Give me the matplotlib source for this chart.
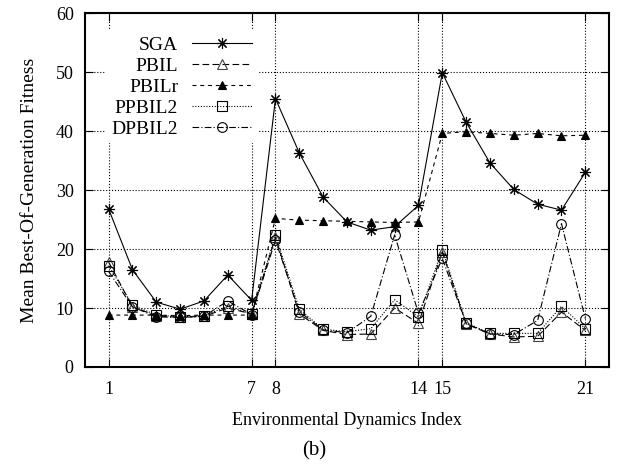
import matplotlib.pyplot as plt

plt.rcParams['font.family'] = 'Liberation Serif'

index = list(range(1, 22))

sga = [26.8, 16.5, 11.0, 9.8, 11.2, 15.6, 11.3, 45.5, 36.3, 28.8, 24.6,
       23.2, 23.8, 27.4, 49.9, 41.5, 34.6, 30.1, 27.6, 26.6, 33.0]
pbil = [17.8, 10.2, 8.7, 8.4, 8.6, 10.0, 9.0, 22.0, 9.0, 6.2, 5.5,
        5.6, 10.0, 7.4, 19.5, 7.3, 5.6, 5.1, 5.2, 9.3, 6.2]
pbilr = [8.8, 8.8, 8.8, 8.7, 8.8, 8.8, 8.8, 25.2, 24.9, 24.8, 24.7,
         24.6, 24.5, 24.6, 39.6, 39.9, 39.6, 39.3, 39.6, 39.2, 39.3]
ppbil2 = [17.2, 10.5, 8.8, 8.5, 8.7, 10.3, 9.0, 22.4, 9.8, 6.4, 6.0,
          6.5, 11.4, 8.5, 19.9, 7.5, 5.7, 5.7, 5.7, 10.3, 6.5]
dpbil2 = [16.2, 10.2, 8.5, 8.4, 8.6, 11.2, 8.9, 21.5, 9.4, 6.3, 5.8,
          8.6, 22.4, 9.1, 18.4, 7.4, 5.6, 5.5, 7.9, 24.3, 8.2]

xticks = [1, 7, 8, 14, 15, 21]

fig = plt.figure(figsize=(6.28, 4.69), dpi=100)
ax = fig.add_axes([0.135, 0.2175, 0.835, 0.7545])

ax.plot(index, sga, c="black", lw=0.8, ls="-", marker=(8, 2, 0), ms=8,
        mew=0.8, label="SGA")
ax.plot(index, pbil, c="black", lw=0.8, ls=(0, (6, 3)), marker="^", ms=7,
        mfc="none", mec="#444444", mew=0.8, label="PBIL")
ax.plot(index, pbilr, c="black", lw=0.8, ls=(0, (3.5, 3.5)), marker="^",
        ms=6, mew=0.8, label="PBILr")
ax.plot(index, ppbil2, c="black", lw=0.8, ls=(0, (1, 1.5)), marker="s",
        ms=7, mfc="none", mew=0.8, label="PPBIL2")
ax.plot(index, dpbil2, c="black", lw=0.8, ls=(0, (6, 2, 1, 2)), marker="o",
        ms=7, mfc="none", mew=0.8, label="DPBIL2")

ax.set_xlim(0, 22)
ax.set_ylim(0, 60)
ax.set_xticks(xticks)
ax.set_yticks(range(0, 61, 10))
ax.tick_params(axis="both", which="major", labelsize=13, direction="in",
               length=6, top=True, right=True, width=0.8)
ax.tick_params(axis="x", pad=10)
ax.tick_params(axis="y", pad=8)
ax.grid(True, ls=":", c="black", lw=0.8)
for s in ax.spines.values():
    s.set_linewidth(1.5)

ax.set_xlabel("Environmental Dynamics Index", fontsize=13, labelpad=10)
ax.set_ylabel("Mean Best-Of-Generation Fitness", fontsize=14, labelpad=13)

leg = ax.legend(loc="upper left", bbox_to_anchor=(0.04, 0.951),
                markerfirst=False, fontsize=14, frameon=True, fancybox=False,
                framealpha=1, edgecolor="white", handlelength=3.1,
                handletextpad=0.7, labelspacing=0.17, borderpad=0.3,
                borderaxespad=0)
leg.get_frame().set_linewidth(0)

fig.text(0.5, 0.028, "(b)", ha="center", fontsize=15)

fig.savefig("out.png")
